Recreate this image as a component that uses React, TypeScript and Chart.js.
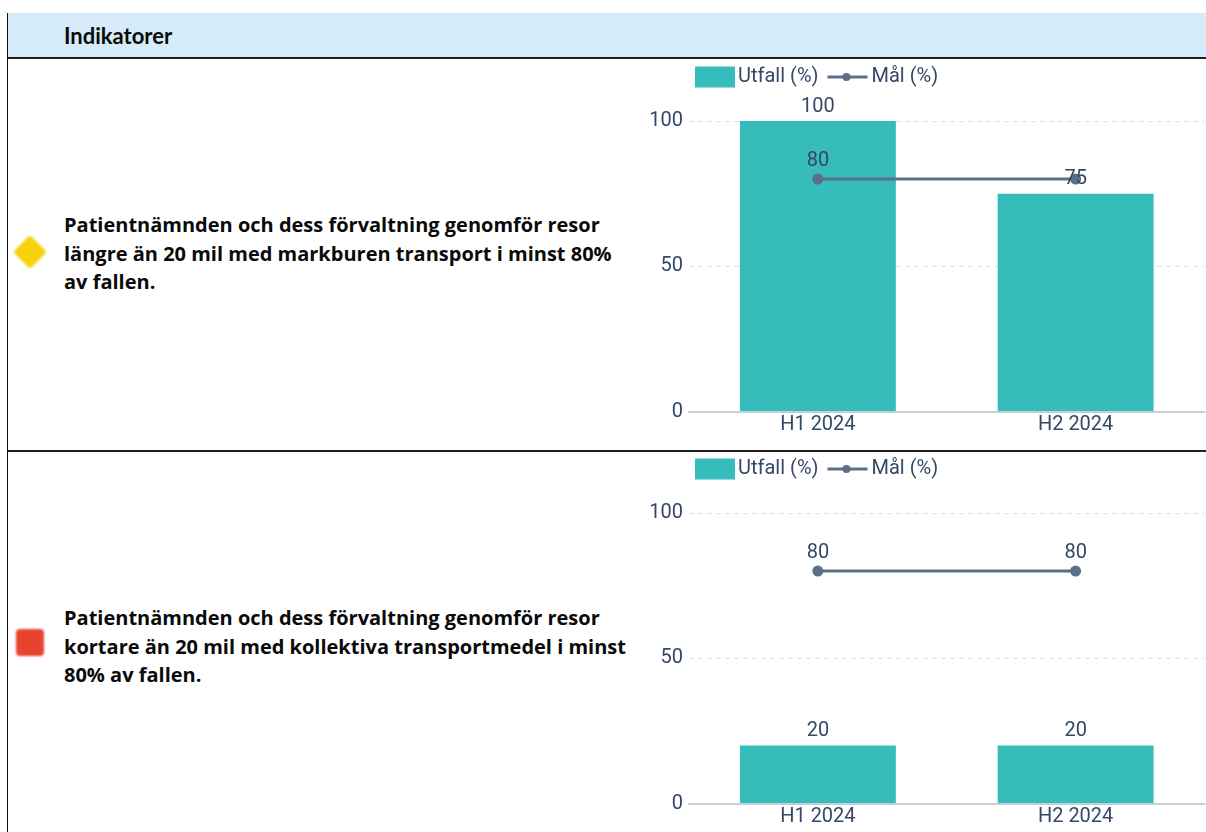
import React, { useEffect, useRef } from 'react';
import { Chart, registerables } from 'chart.js';

Chart.register(...registerables);

// ---------- data ----------
const categories = ['H1 2024', 'H2 2024'];
const seriesNames = ['Utfall (%)', 'Mål (%)'];
const utfallRow1 = [100, 75];
const malRow1 = [80, 80];
const utfallRow2 = [20, 20];
const malRow2 = [80, 80];
const yAxisTicks = [0, 50, 100];
const headerTitle = 'Indikatorer';
const indicatorRow1Lines = [
  'Patientnämnden och dess förvaltning genomför resor',
  'längre än 20 mil med markburen transport i minst 80%',
  'av fallen.',
];
const indicatorRow2Lines = [
  'Patientnämnden och dess förvaltning genomför resor',
  'kortare än 20 mil med kollektiva transportmedel i minst',
  '80% av fallen.',
];

// ---------- styles ----------
const TEAL = '#37bcbc';
const SLATE = '#5a6f88';
const TEXT = '#354867';
const FONT = 'Roboto';
const FSIZE = 20;

function IndicatorChart({ utfall, mal }: { utfall: number[]; mal: number[] }) {
  const ref = useRef<HTMLCanvasElement>(null);
  useEffect(() => {
    if (!ref.current) return;

    const legendPlugin = {
      id: 'customLegend',
      afterDraw(chart: any) {
        const ctx = chart.ctx;
        ctx.save();
        ctx.font = `${FSIZE}px ${FONT}`;
        ctx.textBaseline = 'middle';
        ctx.textAlign = 'left';
        const cy = 17;
        let x = 55;
        const ds = chart.data.datasets;
        // bar item
        ctx.fillStyle = ds[0].backgroundColor;
        ctx.fillRect(x, cy - 10.5, 40, 21);
        x += 43;
        ctx.fillStyle = TEXT;
        ctx.fillText(ds[0].label, x, cy);
        x += ctx.measureText(ds[0].label).width + 9;
        // line item
        ctx.strokeStyle = ds[1].borderColor;
        ctx.lineWidth = 3;
        ctx.beginPath();
        ctx.moveTo(x, cy);
        ctx.lineTo(x + 40, cy);
        ctx.stroke();
        ctx.fillStyle = ds[1].borderColor;
        ctx.beginPath();
        ctx.arc(x + 19, cy, 4, 0, Math.PI * 2);
        ctx.fill();
        x += 44;
        ctx.fillStyle = TEXT;
        ctx.fillText(ds[1].label, x, cy);
        ctx.restore();
      },
    };

    const labelPlugin = {
      id: 'valueLabels',
      afterDatasetsDraw(chart: any) {
        const ctx = chart.ctx;
        ctx.save();
        ctx.font = `${FSIZE}px ${FONT}`;
        ctx.fillStyle = TEXT;
        ctx.textAlign = 'center';
        ctx.textBaseline = 'middle';
        const h = 22;
        const placed: { x1: number; x2: number; y1: number; y2: number }[] = [];
        const toDraw: { t: string; x: number; y: number }[] = [];
        const barMeta = chart.getDatasetMeta(0);
        barMeta.data.forEach((el: any, i: number) => {
          const t = String(chart.data.datasets[0].data[i]);
          const y = el.y - 14.5;
          const w = ctx.measureText(t).width;
          placed.push({ x1: el.x - w / 2, x2: el.x + w / 2, y1: y - h / 2, y2: y + h / 2 });
          toDraw.push({ t, x: el.x, y });
        });
        const lineMeta = chart.getDatasetMeta(1);
        const lineLabels: { t: string; x: number; y: number }[] = [];
        lineMeta.data.forEach((el: any, i: number) => {
          const t = String(chart.data.datasets[1].data[i]);
          const y = el.y - 18;
          const w = ctx.measureText(t).width;
          const box = { x1: el.x - w / 2, x2: el.x + w / 2, y1: y - h / 2, y2: y + h / 2 };
          const hit = placed.some(
            (p) => box.x1 < p.x2 && box.x2 > p.x1 && box.y1 < p.y2 && box.y2 > p.y1
          );
          if (!hit) lineLabels.push({ t, x: el.x, y });
        });
        lineLabels.forEach((l) => ctx.fillText(l.t, l.x, l.y));
        toDraw.forEach((l) => ctx.fillText(l.t, l.x, l.y));
        ctx.restore();
      },
    };

    const chart = new Chart(ref.current, {
      type: 'bar',
      data: {
        labels: categories,
        datasets: [
          {
            type: 'bar',
            label: seriesNames[0],
            data: utfall,
            backgroundColor: TEAL,
            borderWidth: 0,
            categoryPercentage: 0.605,
            barPercentage: 1,
            order: 2,
          } as any,
          {
            type: 'line',
            label: seriesNames[1],
            data: mal,
            borderColor: SLATE,
            backgroundColor: SLATE,
            borderWidth: 3,
            pointRadius: 5.5,
            pointBackgroundColor: SLATE,
            pointBorderWidth: 0,
            fill: false,
            tension: 0,
            order: 1,
            clip: false,
          } as any,
        ],
      },
      options: {
        responsive: false,
        animation: false,
        events: [],
        layout: { padding: { top: 61, right: 0, bottom: 0, left: 0 } },
        plugins: {
          legend: { display: false },
          tooltip: { enabled: false },
        },
        scales: {
          x: {
            grid: { display: false, drawTicks: false },
            border: { display: true, color: '#c6ced9', width: 2 },
            ticks: {
              color: TEXT,
              font: { family: FONT, size: FSIZE },
              padding: 1,
              maxRotation: 0,
            },
            afterFit: (s: any) => {
              s.height = 38.5;
            },
          },
          y: {
            min: yAxisTicks[0],
            max: yAxisTicks[yAxisTicks.length - 1],
            afterBuildTicks: (s: any) => {
              s.ticks = yAxisTicks.map((v) => ({ value: v }));
            },
            ticks: {
              color: TEXT,
              font: { family: FONT, size: FSIZE },
              padding: 6,
            },
            grid: { color: '#dce1e8', drawTicks: false, lineWidth: 1 },
            border: { display: false, dash: [5, 4] },
            afterFit: (s: any) => {
              s.width = 49;
            },
          },
        },
      } as any,
      plugins: [legendPlugin, labelPlugin],
    });
    return () => chart.destroy();
  }, [utfall, mal]);
  return <canvas ref={ref} width={570} height={390} style={{ display: 'block' }} />;
}

function Diamond() {
  return (
    <div
      style={{
        position: 'absolute',
        left: 30 - 12,
        top: 252 - 12,
        width: 24,
        height: 24,
        background: '#f5d20c',
        transform: 'rotate(45deg)',
        borderRadius: 3,
        filter: 'blur(1px)',
      }}
    />
  );
}

function RedSquare({ top }: { top: number }) {
  return (
    <div
      style={{
        position: 'absolute',
        left: 16,
        top,
        width: 28,
        height: 27,
        background: '#e8432e',
        borderRadius: 4,
        filter: 'blur(1px)',
      }}
    />
  );
}

const rowTextStyle: React.CSSProperties = {
  position: 'absolute',
  left: 64,
  width: 575,
  fontFamily: '"Open Sans", sans-serif',
  fontWeight: 700,
  fontSize: 20,
  lineHeight: '28.5px',
  color: '#0a0a0a',
  whiteSpace: 'nowrap',
};

export default function App() {
  return (
    <div
      style={{
        position: 'absolute',
        left: 0,
        top: 0,
        width: 1206,
        height: 832,
        overflow: 'hidden',
        background: '#fff',
      }}
    >
      {/* header band */}
      <div
        style={{
          position: 'absolute',
          left: 8,
          top: 13,
          width: 1198,
          height: 44,
          background: '#d5ebf7',
        }}
      />
      <div
        style={{
          position: 'absolute',
          left: 64,
          top: 13,
          height: 44,
          display: 'flex',
          alignItems: 'center',
          fontFamily: 'Lato, sans-serif',
          fontWeight: 700,
          fontSize: 22,
          color: '#0a0a0a',
        }}
      >
        {headerTitle}
      </div>
      {/* borders */}
      <div style={{ position: 'absolute', left: 8, top: 57, width: 1198, height: 2, background: '#1e1e1e' }} />
      <div style={{ position: 'absolute', left: 8, top: 450, width: 1198, height: 2, background: '#1e1e1e' }} />
      <div style={{ position: 'absolute', left: 7, top: 13, width: 1, height: 819, background: '#111' }} />

      {/* row 1 */}
      <Diamond />
      <div style={{ ...rowTextStyle, top: 211 }}>
        {indicatorRow1Lines.map((l, i) => (
          <div key={i}>{l}</div>
        ))}
      </div>
      <div style={{ position: 'absolute', left: 640, top: 60 }}>
        <IndicatorChart utfall={utfallRow1} mal={malRow1} />
      </div>

      {/* row 2 */}
      <RedSquare top={629} />
      <div style={{ ...rowTextStyle, top: 604 }}>
        {indicatorRow2Lines.map((l, i) => (
          <div key={i}>{l}</div>
        ))}
      </div>
      <div style={{ position: 'absolute', left: 640, top: 452 }}>
        <IndicatorChart utfall={utfallRow2} mal={malRow2} />
      </div>
    </div>
  );
}
